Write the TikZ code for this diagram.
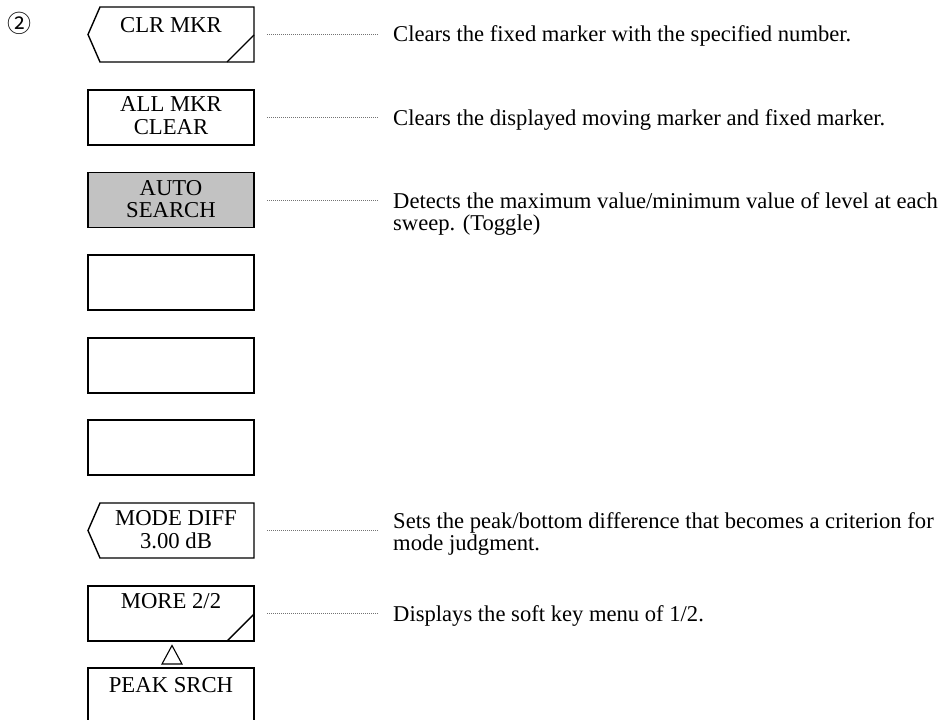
\documentclass[tikz,border=0pt]{standalone}
\usepackage{fontspec}
\setmainfont{Liberation Serif}
\newfontfamily\cjkfont{Noto Sans CJK JP}
\begin{document}
\begin{tikzpicture}[x=1pt,y=-1pt,
  key/.style={minimum width=166pt, minimum height=55pt, inner sep=0pt, outer sep=0pt},
  keyline/.style={line width=1.4pt, line join=miter},
  keytxt/.style={font=\fontsize{22.7}{22.5}\selectfont, inner sep=0pt, anchor=base, align=center},
  desc/.style={font=\fontsize{22.6}{22.5}\selectfont, inner sep=0pt, anchor=base west, align=left},
  leader/.style={black!55, line width=0.9pt, dash pattern=on 1.2pt off 0.8pt, shorten <=13pt, shorten >=15pt}]
\useasboundingbox (0,0) rectangle (945,720);

\node[font=\cjkfont\fontsize{24}{24}\selectfont, inner sep=0pt] (num) at (20,23) {②};

% keys
\node[key] (k1) at (171,34.5) {};
\node[key, draw, keyline] (k2) at (171,117.5) {};
\node[key, draw, keyline, fill=black!24] (k3) at (171,200) {};
\node[key, draw, keyline] (k4) at (171,282.5) {};
\node[key, draw, keyline] (k5) at (171,365.5) {};
\node[key, draw, keyline] (k6) at (171,447.5) {};
\node[key] (k7) at (171,530.5) {};
\node[key] (k8) at (171,613.5) {};
\node[key] (k9) at (171,695.5) {};

% CLR MKR outline: notch + diagonal
\draw[keyline] (k1.north east) -- ([xshift=12pt]k1.north west) -- (k1.west) -- ([xshift=12pt]k1.south west) -- (k1.south east) -- cycle;
\draw[keyline] ([xshift=-27pt]k1.south east) -- ([yshift=27pt]k1.south east);
% MODE DIFF outline: notch
\draw[keyline] (k7.north east) -- ([xshift=12pt]k7.north west) -- (k7.west) -- ([xshift=12pt]k7.south west) -- (k7.south east) -- cycle;
% MORE 2/2: diagonal
\draw[keyline] (k8.north west) rectangle (k8.south east);
\draw[keyline] ([xshift=-27pt]k8.south east) -- ([yshift=27pt]k8.south east);
% PEAK SRCH: open at the bottom
\draw[keyline] (k9.south west) -- (k9.north west) -- (k9.north east) -- (k9.south east);
% triangle
\draw[line width=1.1pt] (162,664) -- (172,645.5) -- (182,664) -- cycle;

% key texts (base = baseline of the last line)
\node[keytxt] (t1) at (171,32) {CLR MKR};
\node[keytxt] (t2) at (171,134) {ALL MKR\\CLEAR};
\node[keytxt] (t3) at (171,217.5) {AUTO\\SEARCH};
\node[keytxt] (t7) at (176,548) {MODE DIFF\\3.00 dB};
\node[keytxt] (t8) at (171,608.5) {MORE 2/2};
\node[keytxt] (t9) at (171,692.5) {PEAK SRCH};

% descriptions
\node[desc] (d1) at (393,41.5) {Clears the fixed marker with the specified number.};
\node[desc] (d2) at (393,125.5) {Clears the displayed moving marker and fixed marker.};
\node[desc] (d3) at (393,230.5) {Detects the maximum value/minimum value of level at each\\sweep. (Toggle)};
\node[desc] (d7) at (393,550.5) {Sets the peak/bottom difference that becomes a criterion for\\mode judgment.};
\node[desc] (d8) at (393,621.5) {Displays the soft key menu of 1/2.};

% leaders
\draw[leader] (k1.east) -- (k1.east -| d1.west);
\draw[leader] (k2.east) -- (k2.east -| d2.west);
\draw[leader] (k3.east) -- (k3.east -| d3.west);
\draw[leader] (k7.east) -- (k7.east -| d7.west);
\draw[leader] (k8.east) -- (k8.east -| d8.west);
\end{tikzpicture}
\end{document}
